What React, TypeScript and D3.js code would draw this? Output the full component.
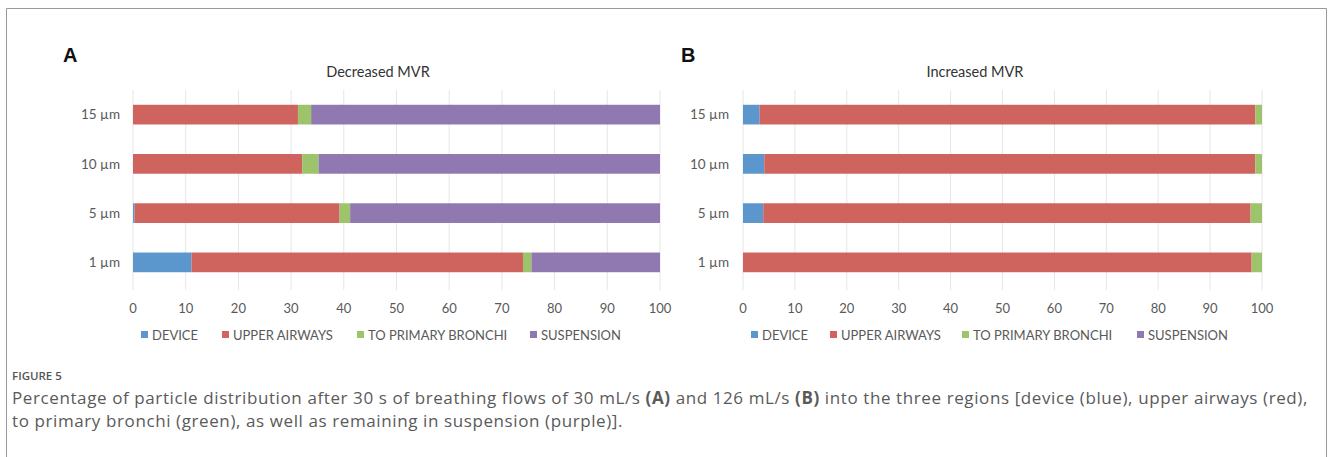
import React from "react";
import * as d3 from "d3";

const categories = ["15 µm", "10 µm", "5 µm", "1 µm"];
const seriesNames = ["DEVICE", "UPPER AIRWAYS", "TO PRIMARY BRONCHI", "SUSPENSION"];
const seriesColors = ["#5b96cc", "#cf635e", "#9dc36b", "#9079b0"];

// Panel A: Decreased MVR (values in %, per category in order of categories)
const deviceA = [0, 0, 0.3, 11.1];
const upperA = [31.3, 32.1, 38.9, 62.9];
const bronchiA = [2.5, 3.1, 2.0, 1.6];
const suspensionA = [66.2, 64.8, 58.8, 24.4];

// Panel B: Increased MVR
const deviceB = [3.2, 4.1, 3.9, 0];
const upperB = [95.5, 94.6, 93.9, 98.0];
const bronchiB = [1.3, 1.3, 2.2, 2.0];
const suspensionB = [0, 0, 0, 0];

const xTicks = [0, 10, 20, 30, 40, 50, 60, 70, 80, 90, 100];

const FONT = "Lato, 'Open Sans', sans-serif";
const CAP_FONT = "'Open Sans', 'Noto Sans', sans-serif";

type PanelProps = {
  letter: string;
  title: string;
  titleX: number;
  letterX: number;
  x0: number;
  x1: number;
  labelX: number;
  legendX: number[];
  series: number[][];
};

function Panel({ letter, title, titleX, letterX, x0, x1, labelX, legendX, series }: PanelProps) {
  const x = d3.scaleLinear().domain([0, 100]).range([x0, x1]);
  const y = d3
    .scaleBand<string>()
    .domain(categories)
    .range([90, 287])
    .paddingInner(0.6)
    .paddingOuter(0.3);
  const rows = categories.map((c, i) => {
    const o: any = { cat: c };
    seriesNames.forEach((s, k) => (o[s] = series[k][i]));
    return o;
  });
  const stacked = d3.stack<any>().keys(seriesNames)(rows);
  return (
    <g>
      <text
        x={letterX}
        y={62}
        fontFamily="'Liberation Sans', Arial, sans-serif"
        fontWeight="bold"
        fontSize={20}
        fill="#111"
      >
        {letter}
      </text>
      <text x={titleX} y={77} textAnchor="middle" fontFamily={FONT} fontSize={14.5} fill="#333">
        {title}
      </text>
      {xTicks.map((t) => (
        <line key={t} x1={x(t)} x2={x(t)} y1={90} y2={290} stroke="#e6e6e6" strokeWidth={1} />
      ))}
      {stacked.map((layer, k) => (
        <g key={k} fill={seriesColors[k]}>
          {layer.map((d, i) =>
            d[1] - d[0] > 0 ? (
              <rect
                key={i}
                x={x(d[0])}
                y={y(categories[i])!}
                width={x(d[1]) - x(d[0])}
                height={y.bandwidth()}
              />
            ) : null
          )}
        </g>
      ))}
      {categories.map((c) => (
        <text
          key={c}
          x={labelX}
          y={y(c)! + y.bandwidth() / 2}
          dy="0.35em"
          textAnchor="end"
          fontFamily={FONT}
          fontSize={13.5}
          fill="#595959"
        >
          {c}
        </text>
      ))}
      {xTicks.map((t) => (
        <text key={t} x={x(t)} y={313} textAnchor="middle" fontFamily={FONT} fontSize={13} fill="#595959">
          {t}
        </text>
      ))}
      {seriesNames.map((s, k) => (
        <g key={s}>
          <rect x={legendX[k]} y={331} width={7} height={7} fill={seriesColors[k]} />
          <text x={legendX[k] + 11} y={339.5} fontFamily={FONT} fontSize={13} fill="#595959">
            {s}
          </text>
        </g>
      ))}
    </g>
  );
}

export default function App() {
  return (
    <svg width={1330} height={457} style={{ position: "absolute", left: 0, top: 0, background: "#fff" }}>
      <rect x={0} y={0} width={1330} height={457} fill="#fff" />
      <path d="M6.5,457 V8.5 H1326.5 V457" fill="none" stroke="#9a9a9a" strokeWidth={1} />
      <Panel
        letter="A"
        title="Decreased MVR"
        titleX={378}
        letterX={63}
        x0={133}
        x1={660}
        labelX={120}
        legendX={[141, 222, 357, 530]}
        series={[deviceA, upperA, bronchiA, suspensionA]}
      />
      <Panel
        letter="B"
        title="Increased MVR"
        titleX={975}
        letterX={681}
        x0={743}
        x1={1262}
        labelX={729}
        legendX={[751, 830, 962, 1137]}
        series={[deviceB, upperB, bronchiB, suspensionB]}
      />
      <text x={12} y={380} fontFamily={CAP_FONT} fontWeight={600} fontSize={11.5} fill="#555">
        FIGURE 5
      </text>
      <text x={12} y={404} fontFamily={CAP_FONT} fontSize={17} fill="#5a5a5a" letterSpacing={0.6}>
        Percentage of particle distribution after 30 s of breathing flows of 30 mL/s{" "}
        <tspan fontWeight="bold">(A)</tspan> and 126 mL/s <tspan fontWeight="bold">(B)</tspan> into the three
        regions [device (blue), upper airways (red),
      </text>
      <text x={12} y={427} fontFamily={CAP_FONT} fontSize={17} fill="#5a5a5a" letterSpacing={0.6}>
        to primary bronchi (green), as well as remaining in suspension (purple)].
      </text>
    </svg>
  );
}
